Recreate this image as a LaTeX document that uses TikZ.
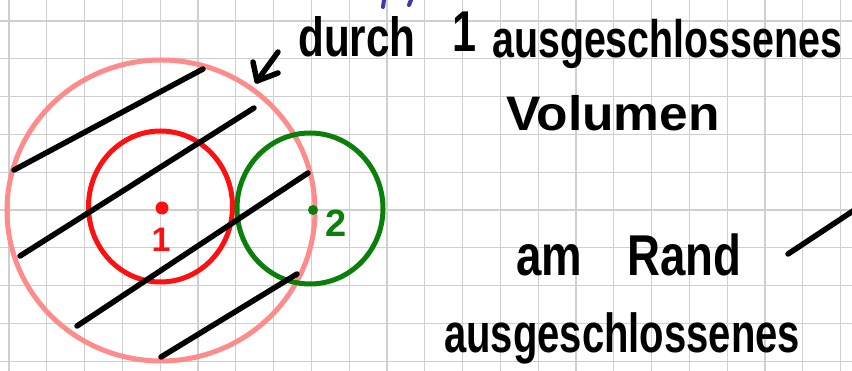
\documentclass[tikz,border=0pt]{standalone}
\usepackage{fontspec}
\setmainfont{Liberation Sans}
\newfontfamily\hand{Liberation Sans Bold}
\definecolor{gridgray}{HTML}{CFCFCF}
\definecolor{pinkc}{HTML}{FF8C8C}
\definecolor{redc}{HTML}{FF1010}
\definecolor{greenc}{HTML}{0A800A}
\definecolor{bluec}{HTML}{3A3AA8}
\begin{document}
\begin{tikzpicture}[x=1pt,y=-1pt,
  gridline/.style={draw=gridgray,line width=1.3pt},
  ink/.style={draw=black,line width=5.5pt,line cap=round,line join=round},
  ring/.style={line width=5pt},
  hw/.style={inner sep=0pt,anchor=base west,text=black},
  hsize/.style={font=\hand\fontsize{#1}{#1}\selectfont}]
\useasboundingbox (0,0) rectangle (852,371);
\fill[white] (0,0) rectangle (852,371);
% grid paper
\foreach \i in {0,...,22} \draw[gridline] ({9+37.8*\i},0) -- ({9+37.8*\i},371);
\foreach \j in {0,...,9} \draw[gridline] (0,{21+37.8*\j}) -- (852,{21+37.8*\j});
% circles
\draw[ring,draw=pinkc] (161,210.5) ellipse[x radius=154pt,y radius=150.5pt];
\draw[ring,draw=redc] (160.5,206.5) ellipse[x radius=72pt,y radius=75.5pt];
\draw[ring,draw=greenc] (310,208.5) ellipse[x radius=73pt,y radius=75.5pt];
% hatching
\draw[ink] (14,170) -- (203,69);
\draw[ink] (20,256) -- (254,108);
\draw[ink] (77,326) -- (308,173);
\draw[ink] (161,357) -- (297,274);
% centres and labels
\fill[redc] (162,208) circle[radius=6.5pt];
\fill[greenc] (313,210) circle[radius=5pt];
\node[hw,anchor=base,text=redc,hsize=34] (lab1) at (161,252) {1};
\node[hw,text=greenc,hsize=38] (lab2) at (325,237) {2};
% arrow
\coordinate (atail) at (278,52);
\coordinate (atip) at (257,81);
\coordinate (ahl) at (253,62);
\coordinate (ahr) at (278,73);
\draw[ink] (atail) -- (atip);
\draw[ink] (ahl) -- (atip) -- (ahr);
% blue marks at top
\draw[bluec,line width=4pt,line cap=round] (384,0) -- (383,7);
\draw[bluec,line width=4pt,line cap=round] (411,0) -- (409,5);
% texts
\node[hw,hsize=48] (durch) at (298,57) {\scalebox{0.88}[1.15]{durch}};
\node[hw,hsize=48] (one) at (452,52) {\scalebox{0.9}[1.2]{1}};
\node[hw,hsize=48] (ausg1) at (492,58) {\scalebox{0.82}[1.1]{ausgeschlossenes}};
\node[hw,hsize=44] (vol) at (506,131) {\scalebox{1.17}[1.1]{Volumen}};
\node[hw,hsize=48] (rand) at (516,276) {\scalebox{0.95}[1.2]{am\quad Rand}};
\node[hw,hsize=50] (ausg2) at (444,353) {\scalebox{0.80}[1.1]{ausgeschlossenes}};
% stroke at right edge
\coordinate (sa) at (788,254);
\coordinate (sb) at (862,205);
\draw[ink] (sa) -- (sb);
\end{tikzpicture}
\end{document}
